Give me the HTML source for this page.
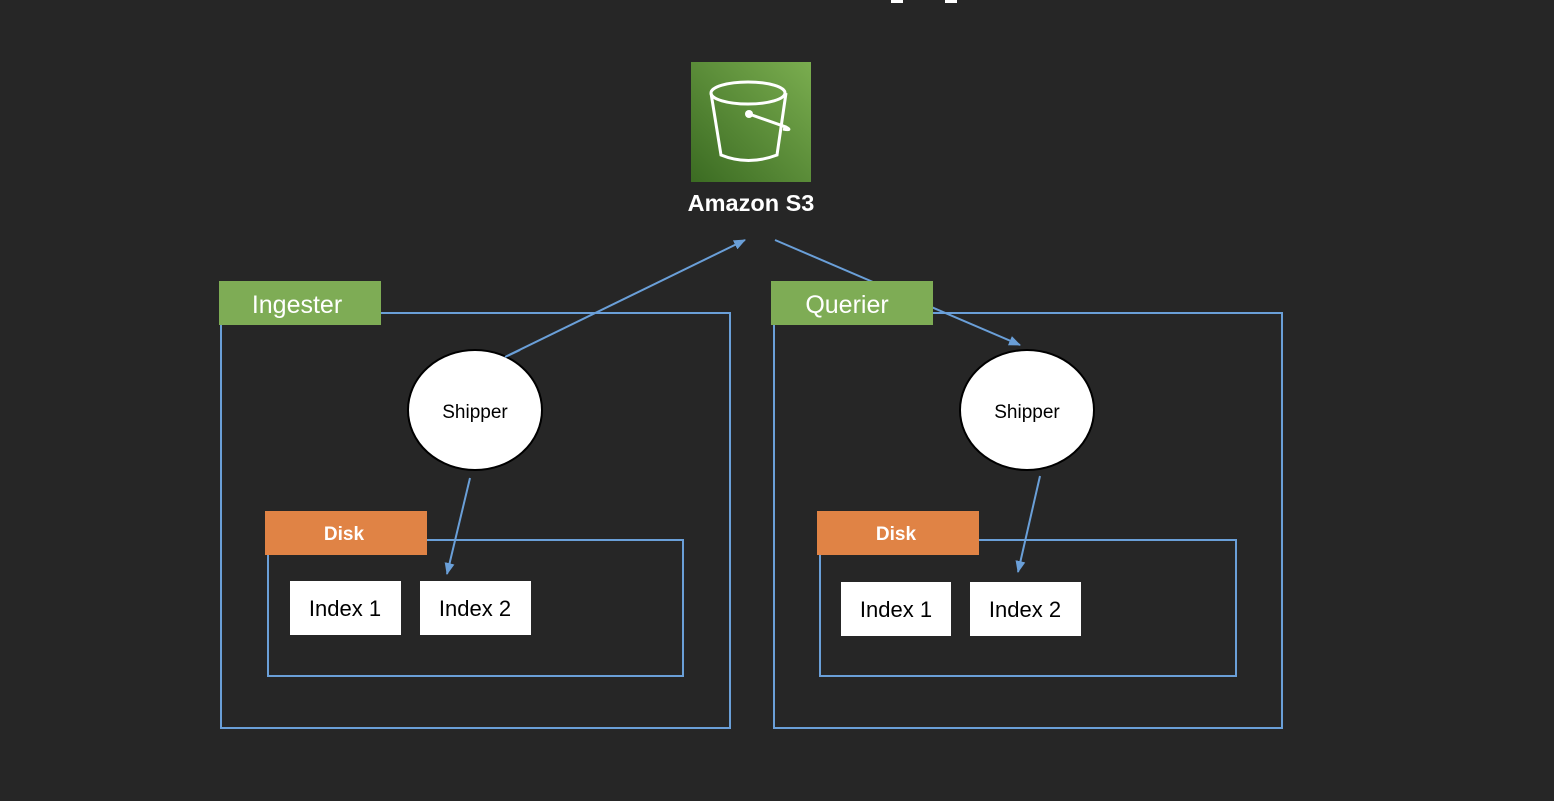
<!DOCTYPE html>
<html><head><style>
body{margin:0;width:1554px;height:796px;background:#262626;overflow:hidden;font-family:"Liberation Sans",sans-serif}
</style></head><body>
<svg width="1554" height="796" viewBox="0 0 1554 796" xmlns="http://www.w3.org/2000/svg">
<defs>
<linearGradient id="g" x1="0" y1="1" x2="1" y2="0"><stop offset="0" stop-color="#3b6b22"/><stop offset="1" stop-color="#7aad4f"/></linearGradient>
<marker id="a" markerWidth="12" markerHeight="12" refX="11" refY="6" orient="auto" markerUnits="userSpaceOnUse"><path d="M0,1 L12,6 L0,11 z" fill="#6a9fd8"/></marker>
</defs>
<rect x="891" y="0" width="12" height="3" fill="#fff"/><rect x="945" y="0" width="12" height="3" fill="#fff"/>
<rect x="691" y="62" width="120" height="120" fill="url(#g)"/>
<g fill="none" stroke="#fff" stroke-width="3">
<ellipse cx="748" cy="93" rx="37" ry="11"/>
<path d="M711,93 L721,155 Q748,166 777,155 L786,93"/>
<path d="M749,114 L786,127 Q793,131 783,129"/>
</g>
<circle cx="749" cy="114" r="4" fill="#fff"/>
<text x="751" y="211" fill="#fff" font-size="23.5" font-weight="bold" text-anchor="middle">Amazon S3</text>
<g fill="none" stroke="#6a9fd8" stroke-width="2">
<rect x="221" y="313" width="509" height="415"/>
<rect x="268" y="540" width="415" height="136"/>
<rect x="774" y="313" width="508" height="415"/>
<rect x="820" y="540" width="416" height="136"/>
</g>
<g stroke="#6a9fd8" stroke-width="2" fill="none">
<line x1="505" y1="357" x2="745" y2="240" marker-end="url(#a)"/>
<line x1="775" y1="240" x2="1020" y2="345" marker-end="url(#a)"/>
<line x1="470" y1="478" x2="447" y2="574" marker-end="url(#a)"/>
<line x1="1040" y1="476" x2="1018" y2="572" marker-end="url(#a)"/>
</g>
<rect x="219" y="281" width="162" height="44" fill="#7eac55"/>
<text x="297" y="313" fill="#fff" font-size="25" text-anchor="middle">Ingester</text>
<rect x="771" y="281" width="162" height="44" fill="#7eac55"/>
<text x="847" y="313" fill="#fff" font-size="25" text-anchor="middle">Querier</text>
<rect x="265" y="511" width="162" height="44" fill="#e08345"/>
<text x="344" y="540" fill="#fff" font-size="19" font-weight="bold" text-anchor="middle">Disk</text>
<rect x="817" y="511" width="162" height="44" fill="#e08345"/>
<text x="896" y="540" fill="#fff" font-size="19" font-weight="bold" text-anchor="middle">Disk</text>
<g fill="#fff"><rect x="290" y="581" width="111" height="54"/><rect x="420" y="581" width="111" height="54"/><rect x="841" y="582" width="110" height="54"/><rect x="970" y="582" width="111" height="54"/></g>
<g font-size="22" fill="#000" text-anchor="middle">
<text x="345" y="616">Index 1</text><text x="475" y="616">Index 2</text>
<text x="896" y="617">Index 1</text><text x="1025" y="617">Index 2</text>
</g>
<ellipse cx="475" cy="410" rx="67" ry="60" fill="#fff" stroke="#000" stroke-width="2"/>
<ellipse cx="1027" cy="410" rx="67" ry="60" fill="#fff" stroke="#000" stroke-width="2"/>
<line x1="505" y1="357" x2="520" y2="350" stroke="#6a9fd8" stroke-width="2"/>
<text x="475" y="418" font-size="19" text-anchor="middle">Shipper</text>
<text x="1027" y="418" font-size="19" text-anchor="middle">Shipper</text>
</svg>
</body></html>
